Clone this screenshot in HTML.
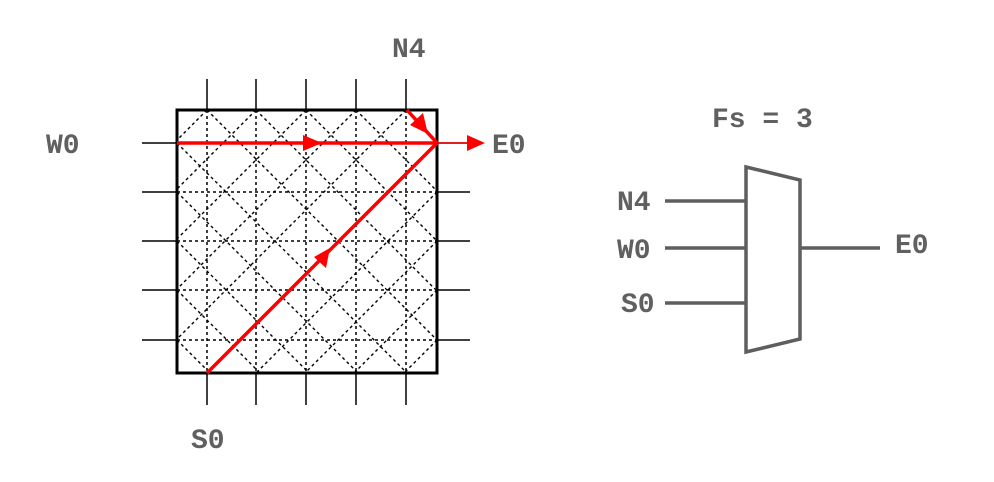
<!DOCTYPE html>
<html><head><meta charset="utf-8"><style>
html,body{margin:0;padding:0;background:#fff;width:994px;height:482px;overflow:hidden;}
svg{display:block;}
text{font-family:"Liberation Mono","Courier New",monospace;font-weight:bold;fill:#606060;font-size:28px;}
</style></head><body>
<svg id="svg" width="994" height="482" viewBox="0 0 994 482" xmlns="http://www.w3.org/2000/svg">
<g id="grid"></g>
<rect x="177" y="110" width="260" height="263" fill="none" stroke="#000" stroke-width="3"/>
<g stroke="#f00" fill="#f00">
<line x1="177" y1="143" x2="437" y2="143" stroke-width="3.5"/>
<polygon points="322,143 303,135 303,151" stroke="none"/>
<line x1="207" y1="373" x2="437" y2="143" stroke-width="3.5"/>
<polygon points="330,248 326,268 314,257" stroke="none"/>
<line x1="407" y1="110" x2="437" y2="143" stroke-width="3.5"/>
<polygon points="428,134 410,125 423,113" stroke="none"/>
<line x1="437" y1="143" x2="470" y2="143" stroke-width="1.5"/>
<polygon points="485,143 467,135 467,151" stroke="none"/>
</g>
<text x="392" y="57">N4</text>
<text x="46" y="153">W0</text>
<text x="492" y="153">E0</text>
<text x="191" y="448">S0</text>
<g stroke="#5e5e5e" stroke-width="3.5" fill="none">
<polygon points="746,167 800,180 800,339 746,352"/>
<line x1="665" y1="201" x2="746" y2="201"/>
<line x1="665" y1="248" x2="746" y2="248"/>
<line x1="665" y1="303" x2="746" y2="303"/>
<line x1="800" y1="248" x2="880" y2="248"/>
</g>
<text x="712" y="127">Fs = 3</text>
<text x="617" y="210">N4</text>
<text x="617" y="258">W0</text>
<text x="621" y="312">S0</text>
<text x="895" y="253">E0</text>
</svg>
<script>
const trackX = [207, 256, 306, 356, 406];
const trackY = [143, 192, 241, 290, 340];
const NS = "http://www.w3.org/2000/svg";
const g = document.getElementById('grid');
const L = 177, R = 437, T = 110, B = 373;
function ln(x1,y1,x2,y2,w,dash){
  const l = document.createElementNS(NS,'line');
  l.setAttribute('x1',x1);l.setAttribute('y1',y1);l.setAttribute('x2',x2);l.setAttribute('y2',y2);
  l.setAttribute('stroke','#000');l.setAttribute('stroke-width',w);
  if(dash) l.setAttribute('stroke-dasharray',dash);
  g.appendChild(l);return l;
}
trackX.forEach(x=>{
  let a=ln(x,79,x,T,1.5);
  
  
  let b=ln(x,B,x,405,1.5);
  
  
  let c=ln(x,T,x,B,1.5,'3,3');
  
  
});
trackY.forEach(y=>{
  let a=ln(142,y,L,y,1.5);
  
  
  let b=ln(R,y,470,y,1.5);
  
  
  let c=ln(L,y,R,y,1.5,'3,3');
  
  
});
trackX.forEach(x=>{
  const t1 = Math.min(R-x, B-T);
  let d1=ln(x,T,x+t1,T+t1,1.4,'3,3');
  
  
  const t2 = Math.min(x-L, B-T);
  let d2=ln(x,T,x-t2,T+t2,1.4,'3,3');
  
  
});
trackY.forEach(y=>{
  const t = Math.min(R-L, B-y);
  let d1=ln(L,y,L+t,y+t,1.4,'3,3');
  
  
  let d2=ln(R,y,R-t,y+t,1.4,'3,3');
  
  
});
</script>
</body></html>
